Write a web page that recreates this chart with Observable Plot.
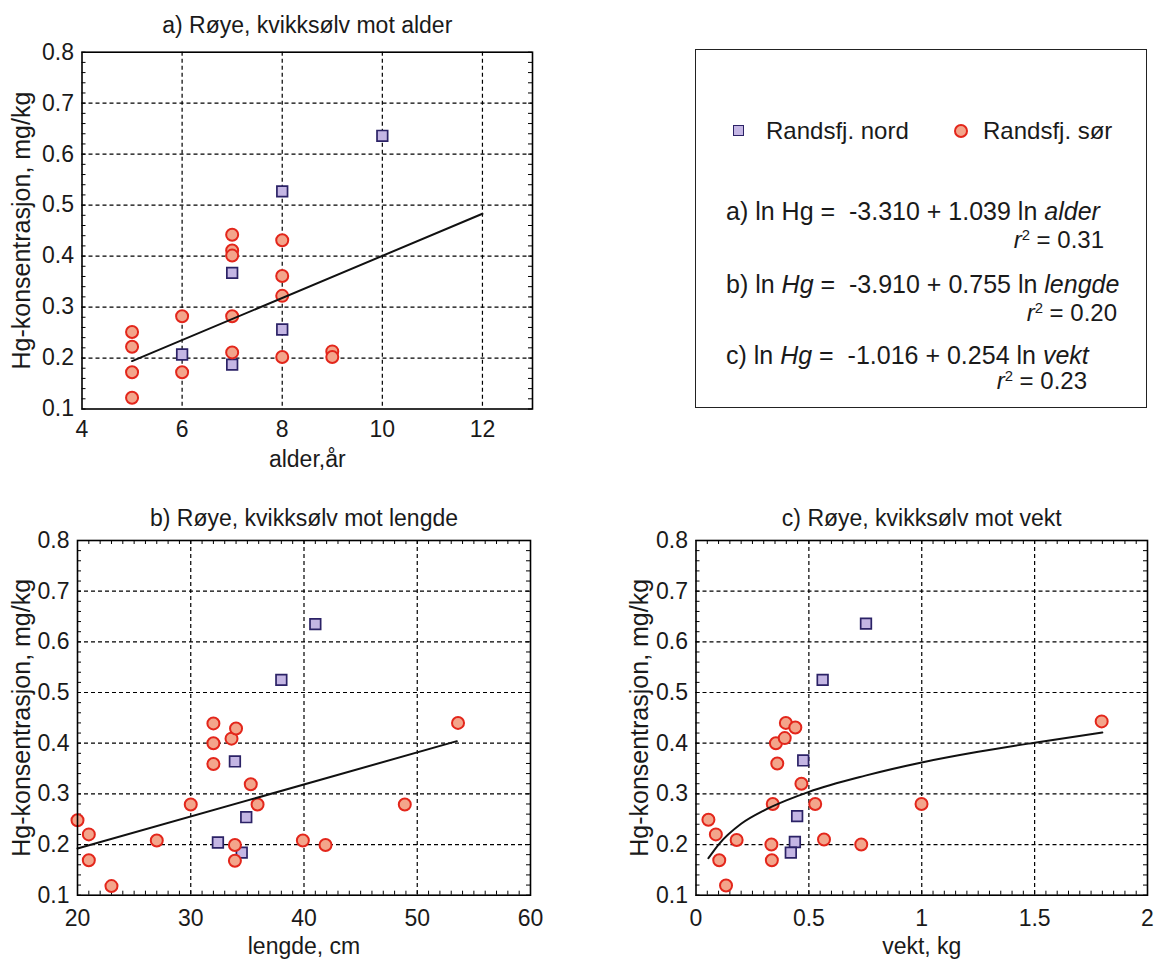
<!DOCTYPE html>
<html>
<head>
<meta charset="utf-8">
<script src="https://cdn.jsdelivr.net/npm/d3@7"></script>
<script src="https://cdn.jsdelivr.net/npm/@observablehq/plot@0.6"></script>
<style>
  html, body { margin: 0; padding: 0; background: #fff; }
  body { font-family: "Liberation Sans", Arial, Helvetica, sans-serif; color: #1a1a1a; }
  #wrap { position: relative; width: 1156px; height: 959px; overflow: hidden; }
  .pnl { position: absolute; }
  #legend { position: absolute; left: 695px; top: 49px; width: 452px; height: 359px;
            border: 1.6px solid #222; box-sizing: border-box; }
  .ln { position: absolute; white-space: pre; line-height: 0.9; }
  .ln sup { font-size: 0.62em; position: relative; top: -0.55em; vertical-align: baseline; line-height: 0; }
  .mk-sq { position: absolute; width: 9px; height: 9px; background: #c4b6e4; border: 1.6px solid #2b2266; }
  .mk-ci { position: absolute; width: 10px; height: 10px; border-radius: 50%; background: #f3a58b; border: 2px solid #e3261b; }
</style>
</head>
<body>
<div id="wrap">
  <div class="pnl" id="pa" style="left:0;top:0"></div>
  <div class="pnl" id="pb" style="left:0;top:480px"></div>
  <div class="pnl" id="pc" style="left:580px;top:480px"></div>
  <div id="legend"></div>
</div>
<script>
// ---------- Data ----------
// Panel a: alder (år)
const nordAlder = [10, 8, 7, 8, 6, 7];
const nordHgA   = [0.636, 0.527, 0.367, 0.256, 0.207, 0.187];
const sorAlder  = [5, 5, 5, 5, 6, 6, 7, 7, 7, 7, 7, 8, 8, 8, 8, 9, 9];
const sorHgA    = [0.251, 0.222, 0.172, 0.122, 0.282, 0.172, 0.442, 0.411, 0.401, 0.282, 0.211, 0.431, 0.361, 0.322, 0.202, 0.213, 0.202];
const fitAlderX = [5, 12];
const fitAlderY = [0.194, 0.483];

// Panel b: lengde (cm)
const nordLengde = [41.0, 38.0, 33.9, 34.9, 32.4, 34.5];
const nordHgB    = [0.635, 0.525, 0.364, 0.254, 0.204, 0.184];
const sorLengde  = [20.0, 21.0, 21.0, 23.0, 27.0, 30.0, 32.0, 32.0, 32.0, 33.6, 34.0, 35.3, 35.9, 33.9, 33.9, 39.9, 41.9, 48.9, 53.6];
const sorHgB     = [0.248, 0.220, 0.169, 0.118, 0.208, 0.279, 0.439, 0.400, 0.359, 0.409, 0.429, 0.319, 0.279, 0.199, 0.168, 0.208, 0.199, 0.279, 0.440];
const fitLengdeX = [20, 53.5];
const fitLengdeY = [0.192, 0.404];

// Panel c: vekt (kg)
const nordVekt = [0.753, 0.561, 0.475, 0.448, 0.438, 0.420];
const nordHgC  = [0.636, 0.525, 0.366, 0.256, 0.205, 0.184];
const sorVekt  = [0.055, 0.088, 0.103, 0.133, 0.180, 0.340, 0.334, 0.336, 0.354, 0.360, 0.393, 0.398, 0.440, 0.467, 0.528, 0.567, 0.732, 0.999, 1.797];
const sorHgC   = [0.249, 0.220, 0.169, 0.119, 0.209, 0.280, 0.200, 0.169, 0.400, 0.360, 0.410, 0.440, 0.431, 0.320, 0.280, 0.210, 0.200, 0.280, 0.443];
const fitVektX = [0.055, 0.1, 0.2, 0.3, 0.4, 0.5, 0.75, 1.0, 1.25, 1.5, 1.8];
const fitVektY = [0.173, 0.200, 0.241, 0.267, 0.287, 0.304, 0.336, 0.362, 0.383, 0.401, 0.421];

// Tick labels
const yTicks = [0.1, 0.2, 0.3, 0.4, 0.5, 0.6, 0.7, 0.8];
const yGrid = [0.2, 0.3, 0.4, 0.5, 0.6, 0.7];
const xTicksA = [4, 6, 8, 10, 12];
const xGridA = [6, 8, 10, 12];
const xTicksB = [20, 30, 40, 50, 60];
const xGridB = [30, 40, 50];
const xTicksC = [0, 0.5, 1, 1.5, 2];
const xGridC = [0.5, 1, 1.5];

const titles = ["a) Røye, kvikksølv mot alder", "b) Røye, kvikksølv mot lengde", "c) Røye, kvikksølv mot vekt"];
const xLabels = ["alder,år", "lengde, cm", "vekt, kg"];
const yLabel = "Hg-konsentrasjon, mg/kg";
const seriesNames = ["Randsfj. nord", "Randsfj. sør"];

// ---------- Styling ----------
const FONT = '"Liberation Sans", Arial, Helvetica, sans-serif';
const SQ_FILL = "#c4b6e4", SQ_STROKE = "#2b2266";
const CI_FILL = "#f3a58b", CI_STROKE = "#e3261b";
const rows = (xs, ys) => xs.map((x, i) => ({x, y: ys[i]}));

function panel(o) {
  const iw = o.width - o.mL - o.mR, ih = o.height - o.mT - o.mB;
  const yMinor = d3.range(0.1, 0.8001, 0.02);
  const gridStyle = {stroke: "#000", strokeOpacity: 1, strokeWidth: 1.2, strokeDasharray: "4,3"};
  const marks = [
    Plot.gridX({ticks: o.xGrid, ...gridStyle}),
    Plot.gridY({ticks: yGrid, ...gridStyle}),
    Plot.tickY(yMinor, {y: d => d, insetRight: iw - 4, stroke: "#000", strokeWidth: 1}),
    Plot.tickY(yMinor, {y: d => d, insetLeft: iw - 4, stroke: "#000", strokeWidth: 1})
  ];
  if (o.xMinor) {
    marks.push(Plot.tickX(o.xMinor, {x: d => d, insetTop: ih - 4, stroke: "#000", strokeWidth: 1}));
    marks.push(Plot.tickX(o.xMinor, {x: d => d, insetBottom: ih - 4, stroke: "#000", strokeWidth: 1}));
  }
  marks.push(
    Plot.dot(o.nord, {x: "x", y: "y", symbol: "square", r: 6, fill: SQ_FILL, stroke: SQ_STROKE, strokeWidth: 1.7}),
    Plot.dot(o.sor, {x: "x", y: "y", symbol: "circle", r: 6, fill: CI_FILL, stroke: CI_STROKE, strokeWidth: 2}),
    Plot.line(o.fit, {x: "x", y: "y", stroke: "#111", strokeWidth: 2, curve: o.curve || "linear"}),
    Plot.frame({stroke: "#000", strokeWidth: 1.6}),
    Plot.axisX({ticks: o.xTicks, tickFormat: o.xFmt, tickSize: 0, tickPadding: o.xPad, label: null, fontSize: 23}),
    Plot.axisY({ticks: yTicks, tickFormat: d3.format(".1f"), tickSize: 0, tickPadding: 8, label: null, fontSize: 23}),
    Plot.text([o.title], {text: d => d, frameAnchor: "top", dy: o.titleDy, lineAnchor: "middle", textAnchor: "middle", fontSize: 23}),
    Plot.text([o.xLabel], {text: d => d, frameAnchor: "bottom", dy: 51, lineAnchor: "middle", textAnchor: "middle", fontSize: 23}),
    Plot.text([yLabel], {text: d => d, frameAnchor: "left", dx: o.yLabelDx, rotate: -90, lineAnchor: "middle", textAnchor: "middle", fontSize: 25})
  );
  return Plot.plot({
    width: o.width, height: o.height,
    marginLeft: o.mL, marginRight: o.mR, marginTop: o.mT, marginBottom: o.mB,
    x: {domain: o.xDomain},
    y: {domain: [0.1, 0.8]},
    style: {fontFamily: FONT, fontSize: "22px", color: "#1a1a1a", background: "transparent", overflow: "visible"},
    marks
  });
}

document.getElementById("pa").appendChild(panel({
  width: 575, height: 490, mL: 81.5, mR: 43, mT: 51.7, mB: 81.5,
  xDomain: [4, 13], xTicks: xTicksA, xGrid: xGridA, xFmt: d => String(d), xPad: 11.5,
  xMinor: null, titleDy: -27,
  nord: rows(nordAlder, nordHgA), sor: rows(sorAlder, sorHgA), fit: rows(fitAlderX, fitAlderY),
  title: titles[0], xLabel: xLabels[0], yLabelDx: -60
}));

document.getElementById("pb").appendChild(panel({
  width: 575, height: 479, mL: 77, mR: 45, mT: 60, mB: 64.3,
  xDomain: [20, 60], xTicks: xTicksB, xGrid: xGridB, xFmt: d => String(d), xPad: 14,
  xMinor: d3.range(21, 60, 1), titleDy: -22,
  nord: rows(nordLengde, nordHgB), sor: rows(sorLengde, sorHgB), fit: rows(fitLengdeX, fitLengdeY),
  title: titles[1], xLabel: xLabels[1], yLabelDx: -56
}));

document.getElementById("pc").appendChild(panel({
  width: 576, height: 479, mL: 115.5, mR: 9, mT: 60, mB: 64.3,
  xDomain: [0, 2], xTicks: xTicksC, xGrid: xGridC, xFmt: d => String(d), xPad: 14,
  xMinor: d3.range(0.05, 2, 0.05), titleDy: -22,
  nord: rows(nordVekt, nordHgC), sor: rows(sorVekt, sorHgC), fit: rows(fitVektX, fitVektY), curve: "monotone-x",
  title: titles[2], xLabel: xLabels[2], yLabelDx: -56
}));

// ---------- Legend / equation box ----------
const lg = document.getElementById("legend");
const L = 695, T = 49; // box origin in page coords
function put(html, x, yc, size, right) {
  const d = document.createElement("div");
  d.className = "ln";
  d.style.fontSize = size + "px";
  d.style.top = (yc - T - size * 0.47) + "px";
  if (right) { d.style.right = (L + 452 - x) + "px"; }
  else { d.style.left = (x - L) + "px"; }
  d.innerHTML = html;
  lg.appendChild(d);
}
const sq = document.createElement("div"); sq.className = "mk-sq";
sq.style.left = (738 - L - 6) + "px"; sq.style.top = (130 - T - 6) + "px"; lg.appendChild(sq);
const ci = document.createElement("div"); ci.className = "mk-ci";
ci.style.left = (960 - L - 7) + "px"; ci.style.top = (130 - T - 7) + "px"; lg.appendChild(ci);
put(seriesNames[0], 765, 130, 24);
put(seriesNames[1], 982, 130, 24);
put('a) ln Hg =  -3.310 + 1.039 ln <i>alder</i>', 725, 211, 25);
put('<i>r</i><sup>2</sup> = 0.31', 1105, 239, 24, true);
put('b) ln <i>Hg</i> =  -3.910 + 0.755 ln <i>lengde</i>', 725, 284, 25);
put('<i>r</i><sup>2</sup> = 0.20', 1118, 312, 24, true);
put('c) ln <i>Hg</i> =  -1.016 + 0.254 ln <i>vekt</i>', 725, 355, 25);
put('<i>r</i><sup>2</sup> = 0.23', 1088, 380, 24, true);
</script>
</body>
</html>
